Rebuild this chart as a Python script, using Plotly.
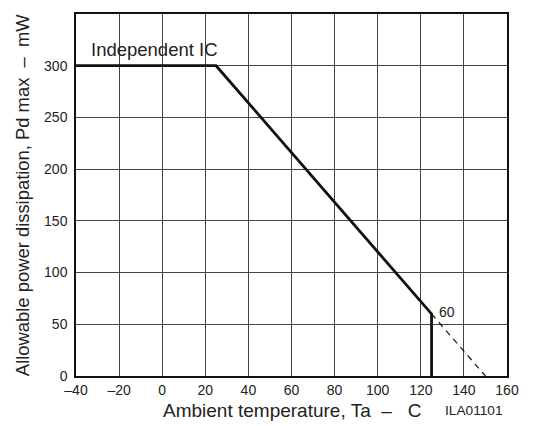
import plotly.graph_objects as go

# Data
temp_solid = [-40, 25, 125, 125]
pd_solid = [300, 300, 60, 0]
temp_dash = [125, 150]
pd_dash = [60, 0]

x_ticks = [-40, -20, 0, 20, 40, 60, 80, 100, 120, 140, 160]
x_tick_text = ["–40", "–20", "0", "20", "40", "60", "80", "100", "120", "140", "160"]
y_ticks = [0, 50, 100, 150, 200, 250, 300]

label_curve = "Independent IC"
label_point = "60"

FONT = "Liberation Sans, Arial, sans-serif"
TXT = "#222222"

fig = go.Figure()
fig.add_trace(go.Scatter(x=temp_dash, y=pd_dash, mode="lines",
                         line=dict(color="#111111", width=1.2, dash="6px,5px"),
                         showlegend=False, hoverinfo="skip"))
fig.add_trace(go.Scatter(x=temp_solid, y=pd_solid, mode="lines",
                         line=dict(color="#111111", width=2.8),
                         showlegend=False, hoverinfo="skip"))

fig.add_annotation(x=-34, y=316, text=label_curve, showarrow=False,
                   xanchor="left", yanchor="middle",
                   font=dict(family=FONT, size=18.5, color=TXT))
fig.add_annotation(x=127.5, y=62, text=label_point, showarrow=False,
                   xanchor="left", yanchor="middle",
                   font=dict(family=FONT, size=14, color=TXT))

# axis titles as annotations
fig.add_annotation(xref="paper", yref="paper", x=0.5, y=-0.096,
                   text="Ambient temperature, Ta  –   C", showarrow=False,
                   xanchor="center", yanchor="middle",
                   font=dict(family=FONT, size=19, color=TXT))
fig.add_annotation(xref="paper", yref="paper", x=0.995, y=-0.096,
                   text="ILA01101", showarrow=False,
                   xanchor="right", yanchor="middle",
                   font=dict(family=FONT, size=13.7, color=TXT))
fig.add_annotation(xref="paper", yref="paper", x=-0.125, y=0.5,
                   text="Allowable power dissipation, Pd max  –  mW", showarrow=False,
                   textangle=-90, xanchor="center", yanchor="middle",
                   font=dict(family=FONT, size=18.4, color=TXT))

# page has an 8px body margin, so the figure is shrunk by 8px and margins shifted
fig.update_layout(
    width=526, height=418,
    margin=dict(l=68, r=27, t=4, b=50),
    paper_bgcolor="white", plot_bgcolor="white",
    font=dict(family=FONT, size=14, color=TXT),
    xaxis=dict(range=[-40, 160], tickvals=x_ticks, ticktext=x_tick_text,
               showgrid=True, gridcolor="#444444", gridwidth=1,
               showline=True, linecolor="#111111", linewidth=1.5, mirror=True,
               ticks="", zeroline=False,
               tickfont=dict(size=14, color=TXT)),
    yaxis=dict(range=[0, 350], tickvals=y_ticks,
               showgrid=True, gridcolor="#444444", gridwidth=1,
               showline=True, linecolor="#111111", linewidth=1.5, mirror=True,
               ticks="", ticklabelstandoff=4, zeroline=False,
               tickfont=dict(size=14, color=TXT)),
)

fig.write_html("out.html")
